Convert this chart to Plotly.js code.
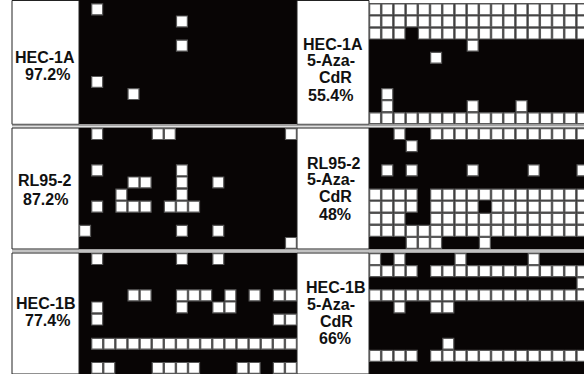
<!DOCTYPE html>
<html><head><meta charset="utf-8">
<script src="https://cdn.plot.ly/plotly-3.0.1.min.js"></script>
<style>html,body{margin:0;padding:0;background:#fff;overflow:hidden}#chart{width:584px;height:374px}</style>
</head><body><div id="chart"></div>
<script>
// '#' = methylated CpG (black), '.' = unmethylated CpG (white); 10 clones x 18 CpG sites
const hec1a = [
"#.################",
"########.#########",
"##################",
"########.#########",
"##################",
"##################",
"#.################",
"####.#############",
"##################",
"##################"];
const rl952 = [
"#.####..#########.",
"##################",
"##################",
"#.######.#########",
"####..##.##.######",
"###.####.#########",
"#.#...#...########",
"##################",
".#######.##.######",
"#################."];
const hec1b = [
"#.######.##.######",
"##################",
"##################",
"####..##...#.#.#..",
"#.######.##..#####",
"#.##############..",
"##################",
"#.................",
"##################",
"#..###....###..#.."];
const hec1aAza = [
"..................",
"..................",
"...#..............",
"########.#########",
"#####.############",
"##################",
"##################",
"#.################",
"#.######.###.#####",
".................."];
const rl952Aza = [
"##.##.............",
"###.##############",
"##################",
"#.#.####.####.###.",
"##################",
"....#.............",
"....#....#........",
"...##.............",
"..................",
"###...###.########"];
const hec1bAza = [
".#.####.#####.####",
"....#.............",
"#################.",
"..................",
"##.##..###########",
"##################",
"##################",
"######.###########",
"....#.............",
"##################"];

const leftLabels = [["HEC-1A","97.2%"],["RL95-2","87.2%"],["HEC-1B","77.4%"]];
const rightLabels = [["HEC-1A","5-Aza-","CdR","55.4%"],["RL95-2","5-Aza-","CdR","48%"],["HEC-1B","5-Aza-","CdR","66%"]];

const panels = [hec1a, hec1aAza, rl952, rl952Aza, hec1b, hec1bAza];

// ---- geometry (pixels) ----
const W = 584, H = 374;
const px = v => v / W, py = v => 1 - v / H;
const bands = [{top:3.3, bot:124.3, ltop:0}, {top:128, bot:249}, {top:253, bot:374}];
const leftX = [79, 297], rightX = [369, 584], rightPitch = 12.2;

const data = [], layout = {
  width: W, height: H, margin: {l:0, r:0, t:0, b:0},
  paper_bgcolor: '#ffffff', plot_bgcolor: '#080505',
  showlegend: false, shapes: [], annotations: []
};
const axBase = {showgrid:false, zeroline:false, showticklabels:false, ticks:'', showline:false, fixedrange:true};

panels.forEach((m, i) => {
  const band = bands[Math.floor(i / 2)], side = i % 2;
  const id = i === 0 ? '' : String(i + 1);
  const pitch = (band.bot - band.top) / 10;
  const top = (side === 0 && band.ltop !== undefined) ? band.ltop : band.top;
  const xr = side === 0 ? [-0.5, 17.5] : [-0.5, -0.5 + (rightX[1] - rightX[0]) / rightPitch];
  const xd = side === 0 ? [px(leftX[0]), px(leftX[1])] : [px(rightX[0]), 1];
  layout['xaxis' + id] = Object.assign({}, axBase, {domain: xd, range: xr, anchor: 'y' + id});
  layout['yaxis' + id] = Object.assign({}, axBase, {domain: [Math.max(0, py(band.bot)), Math.min(1, py(top))],
    range: [9.5, -0.5 - (band.top - top) / pitch], anchor: 'x' + id});
  const xs = [], ys = [];
  m.forEach((row, r) => { for (let c = 0; c < row.length; c++) if (row[c] === '.') { xs.push(c); ys.push(r); } });
  data.push({type:'scatter', mode:'markers', x: xs, y: ys, xaxis: 'x' + id, yaxis: 'y' + id,
    hoverinfo: 'skip', cliponaxis: true,
    marker: {symbol: 'square', size: 10.9, color: '#ffffff', line: {color: '#5a5a5a', width: 1.2}}});
});

// label boxes
const boxY = [[0.5, 124.3], [128, 249], [253, 374]];
boxY.forEach(b => {
  [[12, 79], [297, 369]].forEach(bx => {
    layout.shapes.push({type:'rect', xref:'paper', yref:'paper', x0: px(bx[0]), x1: px(bx[1]),
      y0: py(b[1]), y1: py(b[0]), fillcolor:'#ffffff', line:{color:'#222', width:1}, layer:'below'});
  });
});
// double separators
[125.2, 127.4, 249.8, 252.1].forEach(y => {
  layout.shapes.push({type:'line', xref:'paper', yref:'paper', x0: px(12), x1: 1, y0: py(y), y1: py(y),
    line:{color:'#858585', width:1.3}});
});

const font = {family: 'Liberation Sans, Arial, sans-serif', size: 16, color: '#111'};
const leftPos = [[[45,57.5],[47.5,74.5]], [[44.5,181],[45,199]], [[45.5,303.5],[47.5,320.5]]];
leftLabels.forEach((lines, b) => lines.forEach((t, k) => {
  const p = leftPos[b][k];
  layout.annotations.push({xref:'paper', yref:'paper', x: px(p[0]), y: py(p[1]), text: '<b>' + t + '</b>',
    showarrow:false, xanchor:'center', yanchor:'middle', font: font, borderpad: 0});
}));
const rightPos = [[[303,44],[307,61],[319,78],[308,95]],
                  [[307,163.5],[307,179.5],[319,196.5],[319,214.5]],
                  [[306,287.5],[307,304],[320,321],[319,338.5]]];
rightLabels.forEach((lines, b) => lines.forEach((t, k) => {
  const p = rightPos[b][k];
  layout.annotations.push({xref:'paper', yref:'paper', x: px(p[0] - 1), y: py(p[1]), text: '<b>' + t + '</b>',
    showarrow:false, xanchor:'left', yanchor:'middle', font: font, borderpad: 0});
}));

Plotly.newPlot('chart', data, layout, {staticPlot: true, displayModeBar: false});
</script></body></html>
